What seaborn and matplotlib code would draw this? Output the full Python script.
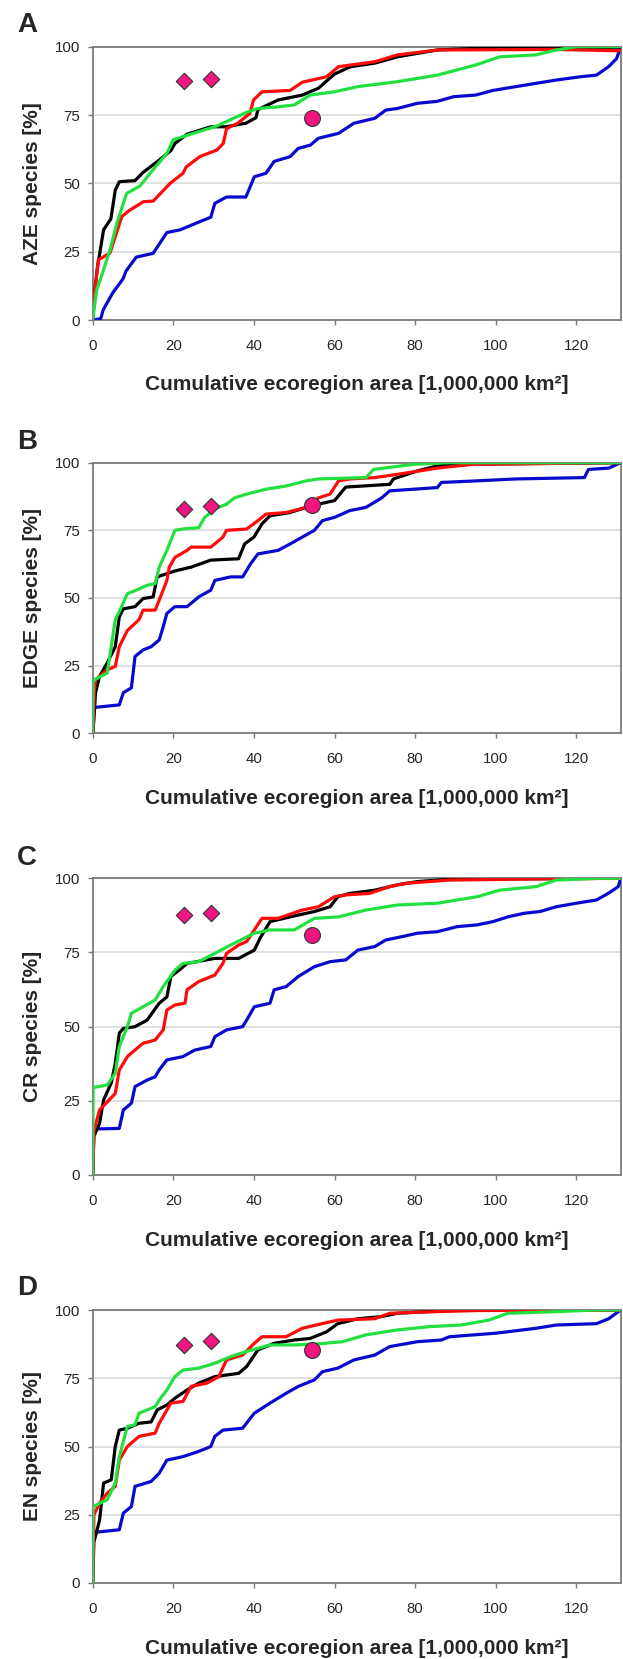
import numpy as np
import pandas as pd
import matplotlib
matplotlib.use("Agg")
import matplotlib.pyplot as plt
import seaborn as sns

# ---------------- data ----------------
panels = ["A", "B", "C", "D"]
ylabels = ["AZE species [%]", "EDGE species [%]", "CR species [%]", "EN species [%]"]
xlabel = "Cumulative ecoregion area [1,000,000 km²]"
xticks = [0, 20, 40, 60, 80, 100, 120]
yticks = [0, 25, 50, 75, 100]

# Panel A
A_black_x = [0, 0.3, 1.2, 2.7, 4.5, 5.6, 6.6, 10.5, 12.5, 16.5, 19.4, 20.4, 23.4, 29.3, 33, 38, 40.5, 41, 46, 52, 56, 60, 64, 70, 75.6, 85.5, 95, 131]
A_black_y = [0, 8, 19.5, 33, 37, 47.5, 50.6, 51, 54, 58.5, 62, 64.6, 68, 70.7, 70.7, 72, 74, 77, 80.5, 82.3, 84.8, 90, 92.7, 94, 96.3, 98.8, 99.4, 99.5]
A_red_x = [0, 0.5, 1.4, 4.3, 7.2, 9, 12.6, 15, 19.2, 22.4, 23.2, 26.6, 30.8, 32.4, 33.2, 36, 39, 39.9, 42, 49, 52, 58, 61, 70, 75.6, 85.5, 115, 131]
A_red_y = [0, 10, 22, 24.5, 37.8, 40, 43.3, 43.5, 50, 53.7, 56, 59.8, 62.2, 64.6, 70, 72, 75.6, 80.5, 83.5, 84, 87, 89, 92.7, 94.5, 97, 98.8, 99, 98.5]
A_green_x = [0, 1, 2.6, 4.3, 6, 8.4, 11.7, 15, 18.4, 20, 25, 30.8, 38.2, 41, 46, 50, 54, 60, 65.8, 75.6, 85.5, 95, 101, 110, 115, 120, 131]
A_green_y = [0, 11, 18, 25.6, 35.4, 46.3, 49, 55, 61, 66, 68.3, 71, 76, 77.4, 78, 78.7, 82.3, 83.5, 85.4, 87.2, 89.6, 93.3, 96.3, 97, 98.8, 100, 100]
A_blue_x = [0, 2, 2.6, 5, 7.5, 8.3, 10.8, 15, 18.4, 21.7, 26.6, 29.3, 30.3, 33.2, 38, 40.1, 43, 45, 49, 51, 54, 56, 61, 64.8, 70, 72.7, 75.6, 80.6, 85.5, 89.5, 95, 99.3, 105, 110, 115, 121, 125, 128, 130, 131]
A_blue_y = [0, 0.5, 3.7, 10, 15, 18, 23, 24.4, 32, 33, 36, 37.6, 42.7, 45, 45, 52.4, 53.7, 58, 59.8, 62.8, 64, 66.5, 68.3, 72, 73.8, 76.8, 77.4, 79.3, 80, 81.7, 82.3, 84, 85.4, 86.6, 87.8, 89, 89.6, 92.7, 95.7, 100]

# Panel B
B_black_x = [0, 0.3, 0.7, 1.7, 3.6, 5.6, 6.6, 7.6, 10.5, 12.5, 15, 16, 18.4, 20.4, 24.4, 29.3, 36.2, 37.7, 40, 42, 44, 49, 53, 56, 60, 62, 62.8, 73.7, 74.6, 80.6, 85.5, 90.4, 131]
B_black_y = [0, 5, 15, 21, 26, 32, 43, 46, 46.8, 49.8, 50.4, 57.8, 59, 60, 61.4, 64, 64.5, 70, 72.5, 77.4, 80.4, 81.6, 83.5, 84.7, 86, 89.6, 91, 92, 94, 97, 98.8, 99.4, 100]
B_red_x = [0, 0.4, 0.7, 3.6, 5.6, 6.6, 8.6, 11.5, 12.5, 15.5, 16.5, 18.4, 19, 20.4, 23.4, 24.4, 29.3, 32.3, 33.2, 38.2, 41, 43, 48, 53, 56, 58.9, 61, 63.8, 70, 75.6, 85.5, 90.4, 94.4, 131]
B_red_y = [0, 16, 19.8, 23.5, 24.7, 32, 38, 42, 45.5, 45.5, 49.2, 56.5, 61.4, 65, 67.6, 68.8, 68.8, 72.5, 75, 75.5, 78.6, 81, 81.6, 83.5, 87, 88.4, 93.3, 94, 94.5, 95.7, 98, 98.8, 99.4, 100]
B_green_x = [0, 0.1, 0.7, 3.6, 4.6, 5.6, 6.6, 8.6, 11, 13.5, 15.5, 16.5, 18.4, 20.4, 22.4, 26.3, 27.8, 30.3, 33.2, 35.2, 38.2, 43, 48, 53, 56, 67.8, 69.7, 79.6, 88.5, 131]
B_green_y = [0, 19, 20, 22.3, 32, 42, 45, 51.6, 53, 54.7, 55.3, 61.4, 67.6, 75, 75.5, 76, 79.8, 82.9, 84.7, 87, 88.4, 90.2, 91.4, 93.3, 94, 94.5, 97.5, 99.4, 100, 100]
B_blue_x = [0, 0.1, 6.6, 7.6, 9.6, 10.5, 12.5, 14.5, 16.5, 17.5, 18.4, 20.4, 23.4, 26.3, 29.3, 30.3, 34.2, 37.2, 39.2, 41, 46, 49, 52, 55, 57, 60, 63.8, 67.8, 71.7, 73.7, 85.5, 86.5, 95.4, 105, 122, 123, 128, 131]
B_blue_y = [0, 9.5, 10.5, 15, 16.8, 28.4, 30.8, 32, 34.5, 39.4, 44.3, 46.8, 46.8, 50.4, 52.9, 56.5, 57.8, 57.8, 62.7, 66.3, 67.6, 70, 72.5, 75, 78.6, 79.8, 82.3, 83.5, 87, 89.6, 90.8, 92.7, 93.3, 94, 94.5, 97.5, 98, 100]

# Panel C
C_black_x = [0, 0.3, 1.7, 2.7, 4.6, 5.6, 6.6, 7.6, 10.5, 13.5, 16.5, 18.4, 19.4, 21.4, 23.4, 30.3, 36.2, 40.1, 41.6, 44, 49, 55, 58.9, 60.8, 63.8, 70, 75.6, 80.6, 88.5, 131]
C_black_y = [0, 13, 17.4, 25.3, 31, 37.6, 47.8, 49.4, 50, 52.2, 57.9, 60, 66.9, 69, 71.3, 73, 73, 75.8, 80, 85.4, 87, 88.8, 90.4, 93.8, 94.9, 96, 97.8, 98.9, 99.7, 100]
C_red_x = [0, 0.3, 1.7, 5.6, 6.6, 8.6, 11.5, 12.5, 15.5, 17.5, 18.4, 20.4, 22.9, 23.4, 26.3, 30.3, 32.3, 33.2, 36.2, 38.2, 40.1, 42, 46, 52, 56, 60, 62.8, 68.7, 73.7, 77.6, 88.5, 105, 131]
C_red_y = [0, 15, 21.9, 27.5, 35.4, 39.9, 43.3, 44.4, 45.5, 48.9, 55.6, 57.3, 57.9, 62.4, 65.2, 67.4, 71.3, 74.7, 77.5, 78.7, 82.6, 86.5, 86.5, 89.3, 90.4, 93.8, 94.4, 94.9, 97.2, 98.3, 99.4, 99.7, 100]
C_green_x = [0, 0.1, 3.6, 5.6, 6.6, 8.6, 9.6, 12.5, 15.5, 17.5, 20.4, 22.4, 26.3, 30.3, 34.2, 40.1, 44, 50, 55, 61, 67.8, 75.6, 85.5, 95.4, 101, 110, 115, 125, 131]
C_green_y = [0, 29.5, 30.3, 34.3, 43.3, 50, 54.5, 56.7, 59, 63.5, 69, 71.3, 71.9, 74.7, 77.5, 81.5, 82.6, 82.6, 86.5, 87, 89.3, 91, 91.6, 93.8, 96, 97.2, 99.4, 100, 100]
C_blue_x = [0, 0.1, 6.6, 7.6, 9.6, 10.5, 13.5, 15.5, 16.5, 18.4, 22.4, 25.3, 29.3, 30.3, 33.2, 37.2, 38.2, 40.1, 44, 45, 48, 51, 55, 58.9, 62.8, 65.8, 70, 72.7, 76.6, 80.6, 85.5, 90.4, 95.4, 99.3, 103, 107, 111, 115, 120, 125, 128, 130.4, 131]
C_blue_y = [0, 15.5, 15.7, 21.9, 24.2, 29.8, 32, 33.1, 35.4, 38.8, 39.9, 42.1, 43.3, 46.6, 48.9, 50, 52.2, 56.7, 57.9, 62.4, 63.5, 66.9, 70.2, 71.9, 72.5, 75.8, 77, 79.2, 80.3, 81.5, 82, 83.7, 84.3, 85.4, 87, 88.2, 88.8, 90.4, 91.6, 92.7, 95, 97.2, 100]

# Panel D
D_black_x = [0, 0.3, 1.7, 2.7, 4.6, 5.6, 6.6, 8.6, 11.5, 14.5, 16, 18.4, 20.4, 23.4, 26.3, 30.3, 36.2, 38.2, 41, 45, 50, 54, 58, 60.8, 65.8, 71.7, 75.6, 85.5, 90, 131]
D_black_y = [0, 15, 23, 36.6, 37.8, 50, 56, 56.7, 58.5, 59, 63.4, 65.2, 67.7, 70.7, 73.2, 75.6, 76.8, 79.3, 85.4, 87.8, 89, 89.6, 92, 95, 96.8, 97.6, 98.8, 99.6, 100, 100]
D_red_x = [0, 0.3, 1.7, 3.6, 5.6, 6.6, 8.6, 11.5, 15.5, 16.5, 19.4, 22.4, 24.4, 28.3, 31.3, 33.2, 37.2, 40.1, 42, 48, 52, 56.9, 60.8, 70, 73.7, 85.5, 95.4, 131]
D_red_y = [0, 25, 29.3, 32.9, 35.4, 45, 50, 53.7, 54.9, 58.5, 65.9, 66.5, 72, 73.2, 75.6, 81.7, 83.5, 87.8, 90.2, 90.2, 93.3, 95, 96.3, 96.8, 98.8, 99.4, 99.8, 100]
D_green_x = [0, 0.1, 3.6, 5.6, 6.6, 8.6, 10.5, 11.5, 15.5, 16.5, 18.4, 20.4, 22.4, 26.3, 30.3, 34.2, 38.2, 44, 50, 56, 62, 67.8, 75.6, 83.5, 91.4, 98.3, 103, 115, 125, 131]
D_green_y = [0, 28, 30.5, 36.6, 46.3, 57.3, 58, 62.2, 64.6, 67, 70.7, 75.6, 78, 78.7, 80.5, 82.9, 84.8, 87.2, 87.2, 87.6, 88.4, 90.9, 92.7, 93.9, 94.5, 96.3, 98.8, 99.4, 100, 100]
D_blue_x = [0, 0.1, 6.6, 7.6, 9.6, 10.5, 14.5, 16.5, 18.4, 22.4, 26.3, 29.3, 30.3, 32.3, 37.2, 40.1, 44, 48, 51, 55, 57, 60.8, 64.8, 70, 73.7, 80.6, 86.5, 88.5, 100, 110, 115, 125, 128, 131]
D_blue_y = [0, 18.5, 19.5, 25.6, 28, 35.4, 37.2, 40.2, 45, 46.3, 48.2, 50, 53.7, 56, 56.7, 62.2, 65.9, 69.5, 72, 74.4, 77.4, 78.7, 81.7, 83.5, 86.6, 88.4, 89, 90.2, 91.5, 93.3, 94.5, 95, 96.8, 100]

# reference markers (two diamonds and one circle per panel)
diamond_x = [22.7, 29.3]
A_diamond_y = [87.5, 88.3]
B_diamond_y = [83.0, 84.0]
C_diamond_y = [87.5, 88.3]
D_diamond_y = [87.3, 88.5]
circle_x = [54.4]
A_circle_y = [74.0]
B_circle_y = [84.5]
C_circle_y = [81.0]
D_circle_y = [85.5]

series_names = ["blue", "black", "red", "green"]
series_colors = {"blue": "#0A0ACF", "black": "#000000", "red": "#FF0A0A", "green": "#22E040"}

data = {
    "A": {"black": (A_black_x, A_black_y), "red": (A_red_x, A_red_y), "green": (A_green_x, A_green_y), "blue": (A_blue_x, A_blue_y),
          "dia": A_diamond_y, "circ": A_circle_y},
    "B": {"black": (B_black_x, B_black_y), "red": (B_red_x, B_red_y), "green": (B_green_x, B_green_y), "blue": (B_blue_x, B_blue_y),
          "dia": B_diamond_y, "circ": B_circle_y},
    "C": {"black": (C_black_x, C_black_y), "red": (C_red_x, C_red_y), "green": (C_green_x, C_green_y), "blue": (C_blue_x, C_blue_y),
          "dia": C_diamond_y, "circ": C_circle_y},
    "D": {"black": (D_black_x, D_black_y), "red": (D_red_x, D_red_y), "green": (D_green_x, D_green_y), "blue": (D_blue_x, D_blue_y),
          "dia": D_diamond_y, "circ": D_circle_y},
}

# ---------------- layout ----------------
W, H = 623, 1659
sns.set_theme(style="white")
plt.rcParams["font.family"] = ["Liberation Sans", "DejaVu Sans"]

fig = plt.figure(figsize=(W / 100, H / 100), dpi=100)

# pixel boxes: (top, bottom) of each plot area; letter centre y
boxes = {"A": (46.7, 320.0, 25), "B": (462.7, 733.3, 442), "C": (878.3, 1175.0, 858), "D": (1310.0, 1583.0, 1288)}
left_px, right_px = 92.7, 620.7

marker_color = "#F0157F"

for name, ylab in zip(panels, ylabels):
    top, bot, ly = boxes[name]
    ax = fig.add_axes([left_px / W, 1 - bot / H, (right_px - left_px) / W, (bot - top) / H])
    d = data[name]
    rows = []
    for s in series_names:
        xs, ys = d[s]
        for i, (xv, yv) in enumerate(zip(xs, ys)):
            rows.append({"area": xv, "pct": yv, "series": s, "order": i})
    df = pd.DataFrame(rows)
    for s in series_names:
        sns.lineplot(data=df[df["series"] == s], x="area", y="pct", color=series_colors[s],
                     lw=2.3, sort=False, estimator=None, ax=ax, legend=False, zorder=3)
    mk = pd.DataFrame({"x": diamond_x, "y": d["dia"]})
    sns.scatterplot(data=mk, x="x", y="y", marker="D", s=70, color=marker_color,
                    edgecolor="#333333", linewidth=0.8, ax=ax, zorder=5, legend=False)
    mc = pd.DataFrame({"x": circle_x, "y": d["circ"]})
    sns.scatterplot(data=mc, x="x", y="y", marker="o", s=130, color=marker_color,
                    edgecolor="#333333", linewidth=0.8, ax=ax, zorder=5, legend=False)

    ax.set_xlim(0, 131)
    ax.set_ylim(0, 100)
    ax.set_xticks(xticks)
    ax.set_yticks(yticks)
    ax.set_xticklabels([str(t) for t in xticks])
    ax.set_yticklabels([str(t) for t in yticks])
    for yv in [25, 50, 75]:
        ax.axhline(yv, color="#DADADA", lw=1.2, zorder=1)
    for sp in ax.spines.values():
        sp.set_visible(True)
        sp.set_color("#7A7A7A")
        sp.set_linewidth(1.3)
    ax.tick_params(axis="x", which="major", direction="out", length=3.5, width=1, color="#7A7A7A",
                   labelsize=10.8, pad=10, bottom=True)
    ax.tick_params(axis="y", which="major", direction="out", length=3.5, width=1, color="#7A7A7A",
                   labelsize=10.8, pad=5.5, left=True)
    hpx = bot - top
    ax.set_xlabel(xlabel, fontsize=15, fontweight="bold", labelpad=0)
    ax.xaxis.set_label_coords(0.5, -65 / hpx)
    ax.xaxis.label.set_va("center")
    ax.set_ylabel(ylab, fontsize=15, fontweight="bold")
    ax.yaxis.set_label_coords((33 - left_px) / (right_px - left_px), 0.5)
    ax.yaxis.label.set_va("center")
    fig.text(27 / W, 1 - ly / H, name, fontsize=20, fontweight="bold", ha="center", va="center")

fig.savefig("out.png", dpi=100)
